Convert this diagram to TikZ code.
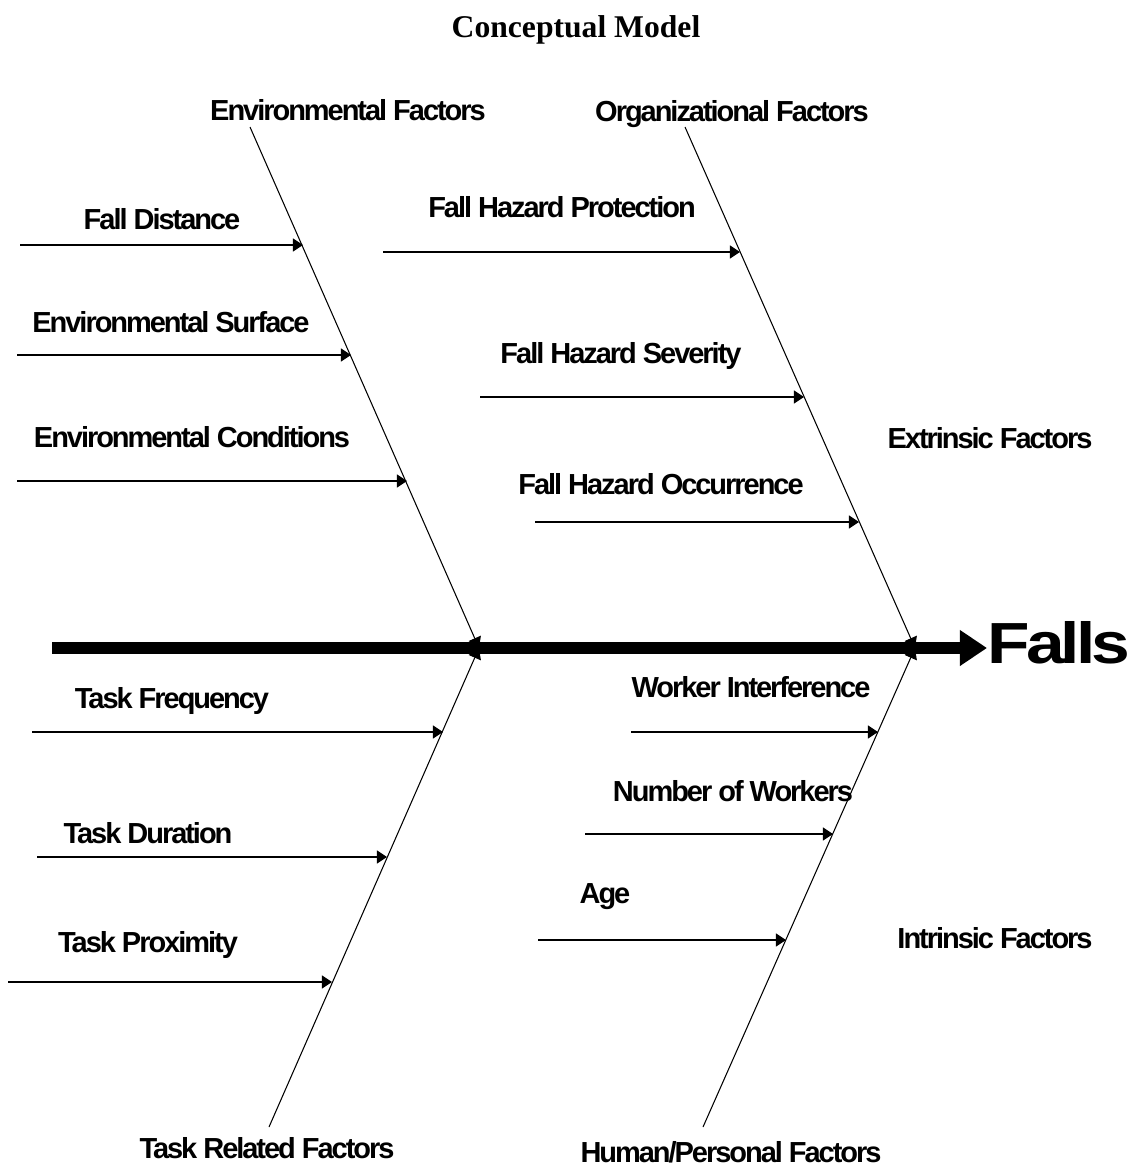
\documentclass[tikz,border=0pt]{standalone}
\usepackage{fontspec}
\setmainfont{Liberation Sans}
\newfontfamily\lblfont[LetterSpace=-7]{Liberation Sans}
\newfontfamily\fallsfont[LetterSpace=-7,FakeStretch=1.2]{Liberation Sans}
\newfontfamily\ttlfont{Liberation Serif}
\usetikzlibrary{arrows.meta}

\begin{document}
\begin{tikzpicture}[x=0.02cm,y=-0.02cm,
    lbl/.style={anchor=base,inner sep=0pt,font=\lblfont\bfseries\fontsize{16.5}{18}\selectfont},
    bone/.style={line width=0.6pt,-{Triangle[length=6pt,width=7.5pt]}},
    branch/.style={line width=0.6pt,-{Triangle[length=5.7pt,width=7.4pt]}}]
      \useasboundingbox (0,0) rectangle (1133,1169);
      \node (title) [anchor=base,inner sep=0pt,font=\ttlfont\bfseries\fontsize{18}{20}\selectfont] at (576,38) {Conceptual Model};
      % spine
      \coordinate (s0) at (52,648);
      \coordinate (s1) at (987,648);
      \node (falls) [anchor=base,inner sep=0pt,font=\fallsfont\bfseries\fontsize{33}{36}\selectfont] at (1059,663) {Falls};
      \draw [line width=6.3pt,-{Triangle[length=15.4pt,width=19.4pt]}] (s0) -- (s1);
      % bones
      \coordinate (env0) at (250,127);
      \coordinate (env1) at (479,648);
      \coordinate (org0) at (685,127);
      \coordinate (org1) at (915,648);
      \coordinate (task0) at (269,1127);
      \coordinate (task1) at (479,648);
      \coordinate (hum0) at (703,1127);
      \coordinate (hum1) at (915,648);
      \node (envf) [lbl] at (348,121) {Environmental Factors};
      \node (orgf) [lbl] at (732,122) {Organizational Factors};
      \node (extf) [lbl] at (990,448) {Extrinsic Factors};
      \node (intf) [lbl] at (995,948) {Intrinsic Factors};
      \node (taskf) [lbl] at (267,1158) {Task Related Factors};
      \node (humf) [lbl] at (731,1162) {Human/Personal Factors};
      \draw [bone] (env0) -- (env1);
      \draw [bone] (org0) -- (org1);
      \draw [bone] (task0) -- (task1);
      \draw [bone] (hum0) -- (hum1);
      % causes
      \node (fd) [lbl] at (162,230) {Fall Distance};
      \node (es) [lbl] at (171,332) {Environmental Surface};
      \node (ec) [lbl] at (192,447) {Environmental Conditions};
      \node (fhp) [lbl] at (562,217) {Fall Hazard Protection};
      \node (fhs) [lbl] at (621,363) {Fall Hazard Severity};
      \node (fho) [lbl] at (661,494) {Fall Hazard Occurrence};
      \node (tf) [lbl] at (172,708) {Task Frequency};
      \node (td) [lbl] at (148,843) {Task Duration};
      \node (tp) [lbl] at (148,952) {Task Proximity};
      \node (wi) [lbl] at (751,697) {Worker Interference};
      \node (nw) [lbl] at (733,801) {Number of Workers};
      \node (age) [lbl] at (605,903) {Age};
      \coordinate (fd0) at (20,245);   \coordinate (fd1) at (303,245);
      \coordinate (es0) at (17,355);   \coordinate (es1) at (351,355);
      \coordinate (ec0) at (17,481);   \coordinate (ec1) at (407,481);
      \coordinate (fhp0) at (383,252); \coordinate (fhp1) at (740,252);
      \coordinate (fhs0) at (480,397); \coordinate (fhs1) at (804,397);
      \coordinate (fho0) at (535,522); \coordinate (fho1) at (859,522);
      \coordinate (tf0) at (32,732);   \coordinate (tf1) at (443,732);
      \coordinate (td0) at (37,857);   \coordinate (td1) at (387,857);
      \coordinate (tp0) at (8,982);    \coordinate (tp1) at (332,982);
      \coordinate (wi0) at (631,732);  \coordinate (wi1) at (878,732);
      \coordinate (nw0) at (585,834);  \coordinate (nw1) at (833,834);
      \coordinate (age0) at (538,940); \coordinate (age1) at (786,940);
      \draw [branch] (fd0) -- (fd1);
      \draw [branch] (es0) -- (es1);
      \draw [branch] (ec0) -- (ec1);
      \draw [branch] (fhp0) -- (fhp1);
      \draw [branch] (fhs0) -- (fhs1);
      \draw [branch] (fho0) -- (fho1);
      \draw [branch] (tf0) -- (tf1);
      \draw [branch] (td0) -- (td1);
      \draw [branch] (tp0) -- (tp1);
      \draw [branch] (wi0) -- (wi1);
      \draw [branch] (nw0) -- (nw1);
      \draw [branch] (age0) -- (age1);
    \end{tikzpicture}
\end{document}
